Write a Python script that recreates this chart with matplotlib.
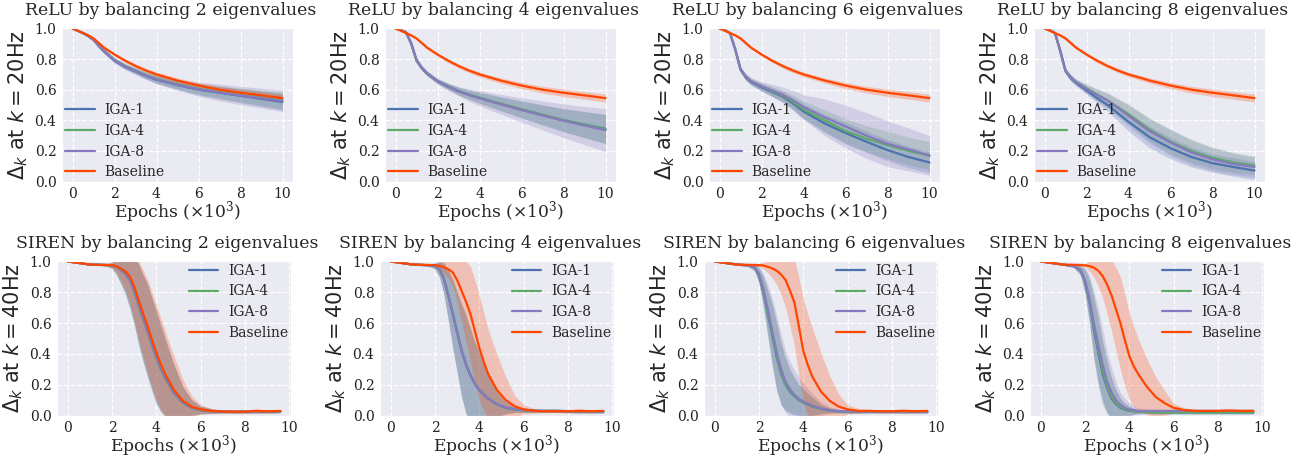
import matplotlib
matplotlib.use("Agg")
import matplotlib.pyplot as plt
import seaborn as sns
import numpy as np

# ---------------- data ----------------
relu_x = [0, 0.25, 0.5, 0.75, 1.0, 1.25, 1.5, 2, 2.5, 3, 3.5, 4, 5, 6, 7, 8, 9, 10]
siren_x = [0, 0.5, 1.0, 1.5, 1.8, 2.0, 2.2, 2.4, 2.6, 2.8, 3.0, 3.2, 3.4, 3.6, 3.8,
           4.0, 4.2, 4.4, 4.8, 5.2, 5.6, 6.0, 6.5, 7.0, 7.5, 8.0, 8.5, 9.0, 9.6]

series_names = ["IGA-1", "IGA-4", "IGA-8", "Baseline"]
series_colors = ["#4C72B0", "#5DAA68", "#8878C0", "#FF4500"]

relu_baseline = [1.0, 0.985, 0.97, 0.955, 0.935, 0.905, 0.875, 0.83, 0.79, 0.755, 0.725, 0.70,
                 0.66, 0.627, 0.60, 0.58, 0.563, 0.545]
relu_baseline_std = [0, 0.004, 0.006, 0.008, 0.01, 0.01, 0.01, 0.01, 0.012, 0.013, 0.014, 0.015,
                     0.017, 0.02, 0.022, 0.024, 0.025, 0.026]

# ReLU, balancing 2 eigenvalues
relu2_means = [
    [1.0, 0.985, 0.97, 0.95, 0.925, 0.885, 0.85, 0.79, 0.75, 0.72, 0.69, 0.665, 0.63, 0.60, 0.58, 0.56, 0.54, 0.52],
    [1.0, 0.985, 0.97, 0.952, 0.928, 0.89, 0.855, 0.795, 0.755, 0.725, 0.695, 0.67, 0.635, 0.605, 0.585, 0.565, 0.548, 0.53],
    [1.0, 0.985, 0.97, 0.95, 0.926, 0.887, 0.852, 0.792, 0.752, 0.722, 0.692, 0.668, 0.632, 0.603, 0.582, 0.562, 0.545, 0.527],
]
relu2_stds = [
    [0, 0.003, 0.005, 0.008, 0.01, 0.012, 0.014, 0.016, 0.018, 0.02, 0.022, 0.025, 0.03, 0.035, 0.04, 0.045, 0.05, 0.055],
    [0, 0.003, 0.005, 0.008, 0.01, 0.012, 0.014, 0.016, 0.018, 0.02, 0.022, 0.025, 0.03, 0.035, 0.04, 0.045, 0.05, 0.055],
    [0, 0.003, 0.005, 0.008, 0.01, 0.012, 0.014, 0.016, 0.018, 0.02, 0.024, 0.028, 0.035, 0.045, 0.055, 0.06, 0.065, 0.07],
]

# ReLU, balancing 4 eigenvalues
relu4_means = [
    [1.0, 0.99, 0.975, 0.90, 0.79, 0.74, 0.705, 0.655, 0.62, 0.59, 0.566, 0.546, 0.507, 0.47, 0.435, 0.40, 0.372, 0.345],
    [1.0, 0.99, 0.975, 0.90, 0.79, 0.742, 0.707, 0.657, 0.622, 0.592, 0.568, 0.548, 0.51, 0.473, 0.437, 0.402, 0.372, 0.342],
    [1.0, 0.99, 0.975, 0.905, 0.795, 0.745, 0.708, 0.656, 0.62, 0.59, 0.565, 0.544, 0.505, 0.467, 0.432, 0.397, 0.366, 0.335],
]
relu4_stds = [
    [0, 0.003, 0.005, 0.01, 0.015, 0.015, 0.015, 0.015, 0.02, 0.025, 0.03, 0.035, 0.045, 0.055, 0.065, 0.075, 0.085, 0.095],
    [0, 0.003, 0.005, 0.01, 0.015, 0.015, 0.015, 0.015, 0.02, 0.025, 0.03, 0.035, 0.045, 0.055, 0.065, 0.075, 0.085, 0.095],
    [0, 0.003, 0.005, 0.01, 0.015, 0.015, 0.015, 0.02, 0.025, 0.03, 0.04, 0.05, 0.065, 0.08, 0.095, 0.11, 0.125, 0.14],
]

# ReLU, balancing 6 eigenvalues
relu6_means = [
    [1.0, 0.99, 0.97, 0.86, 0.73, 0.68, 0.65, 0.615, 0.585, 0.555, 0.51, 0.458, 0.38, 0.317, 0.26, 0.205, 0.16, 0.125],
    [1.0, 0.99, 0.97, 0.865, 0.735, 0.685, 0.655, 0.62, 0.59, 0.56, 0.52, 0.47, 0.40, 0.33, 0.28, 0.238, 0.2, 0.17],
    [1.0, 0.99, 0.97, 0.865, 0.735, 0.685, 0.655, 0.622, 0.595, 0.567, 0.53, 0.487, 0.42, 0.36, 0.30, 0.247, 0.21, 0.17],
]
relu6_stds = [
    [0, 0.003, 0.005, 0.01, 0.015, 0.02, 0.02, 0.025, 0.03, 0.035, 0.04, 0.05, 0.06, 0.07, 0.07, 0.07, 0.07, 0.07],
    [0, 0.003, 0.005, 0.01, 0.015, 0.02, 0.02, 0.025, 0.03, 0.035, 0.045, 0.055, 0.07, 0.08, 0.085, 0.09, 0.09, 0.09],
    [0, 0.003, 0.005, 0.01, 0.015, 0.02, 0.025, 0.03, 0.04, 0.05, 0.065, 0.08, 0.12, 0.14, 0.15, 0.15, 0.14, 0.13],
]

# ReLU, balancing 8 eigenvalues
relu8_means = [
    [1.0, 0.99, 0.97, 0.85, 0.72, 0.675, 0.645, 0.595, 0.545, 0.50, 0.445, 0.39, 0.29, 0.218, 0.16, 0.12, 0.095, 0.072],
    [1.0, 0.99, 0.97, 0.855, 0.725, 0.68, 0.65, 0.61, 0.57, 0.53, 0.485, 0.44, 0.34, 0.26, 0.20, 0.155, 0.125, 0.105],
    [1.0, 0.99, 0.97, 0.855, 0.725, 0.68, 0.65, 0.605, 0.565, 0.53, 0.48, 0.43, 0.33, 0.255, 0.19, 0.145, 0.115, 0.095],
]
relu8_stds = [
    [0, 0.003, 0.005, 0.01, 0.015, 0.02, 0.02, 0.025, 0.03, 0.04, 0.05, 0.06, 0.07, 0.07, 0.065, 0.06, 0.06, 0.06],
    [0, 0.003, 0.005, 0.01, 0.015, 0.02, 0.02, 0.025, 0.035, 0.045, 0.055, 0.065, 0.075, 0.08, 0.075, 0.07, 0.065, 0.06],
    [0, 0.003, 0.005, 0.01, 0.015, 0.02, 0.02, 0.03, 0.04, 0.05, 0.06, 0.07, 0.08, 0.085, 0.08, 0.075, 0.07, 0.065],
]

# SIREN, balancing 2 eigenvalues
siren2_means = [
    [1.0, 0.99, 0.98, 0.978, 0.977, 0.975, 0.965, 0.945, 0.92, 0.88, 0.81, 0.72, 0.63, 0.55, 0.46, 0.375, 0.305, 0.245, 0.145, 0.085, 0.05, 0.035, 0.028, 0.025, 0.024, 0.024, 0.026, 0.025, 0.027],
    [1.0, 0.99, 0.98, 0.978, 0.977, 0.975, 0.966, 0.946, 0.922, 0.884, 0.815, 0.726, 0.636, 0.556, 0.466, 0.38, 0.31, 0.25, 0.15, 0.088, 0.052, 0.036, 0.028, 0.025, 0.024, 0.024, 0.026, 0.025, 0.027],
    [1.0, 0.99, 0.98, 0.978, 0.977, 0.975, 0.966, 0.947, 0.923, 0.886, 0.818, 0.73, 0.64, 0.56, 0.47, 0.385, 0.315, 0.255, 0.152, 0.09, 0.053, 0.037, 0.029, 0.026, 0.025, 0.025, 0.027, 0.026, 0.028],
    [1.0, 0.99, 0.98, 0.978, 0.977, 0.976, 0.97, 0.955, 0.935, 0.905, 0.84, 0.75, 0.665, 0.585, 0.495, 0.41, 0.335, 0.27, 0.165, 0.095, 0.057, 0.04, 0.03, 0.026, 0.025, 0.025, 0.03, 0.027, 0.03],
]
siren2_stds = [
    [0, 0.003, 0.005, 0.005, 0.01, 0.02, 0.05, 0.09, 0.13, 0.18, 0.22, 0.26, 0.28, 0.3, 0.3, 0.3, 0.28, 0.25, 0.18, 0.1, 0.05, 0.025, 0.015, 0.01, 0.01, 0.01, 0.01, 0.01, 0.01],
    [0, 0.003, 0.005, 0.005, 0.01, 0.02, 0.05, 0.09, 0.13, 0.18, 0.22, 0.26, 0.28, 0.3, 0.3, 0.3, 0.28, 0.25, 0.18, 0.1, 0.05, 0.025, 0.015, 0.01, 0.01, 0.01, 0.01, 0.01, 0.01],
    [0, 0.003, 0.005, 0.005, 0.01, 0.02, 0.05, 0.09, 0.13, 0.18, 0.22, 0.26, 0.28, 0.3, 0.3, 0.3, 0.28, 0.25, 0.18, 0.1, 0.05, 0.025, 0.015, 0.01, 0.01, 0.01, 0.01, 0.01, 0.01],
    [0, 0.003, 0.005, 0.005, 0.01, 0.02, 0.04, 0.08, 0.12, 0.17, 0.22, 0.25, 0.28, 0.3, 0.31, 0.31, 0.3, 0.28, 0.22, 0.14, 0.07, 0.03, 0.015, 0.01, 0.01, 0.01, 0.015, 0.01, 0.01],
]

# SIREN, balancing 4 eigenvalues
siren4_means = [
    [1.0, 0.99, 0.98, 0.977, 0.975, 0.97, 0.95, 0.89, 0.78, 0.66, 0.54, 0.42, 0.33, 0.26, 0.205, 0.165, 0.135, 0.11, 0.072, 0.05, 0.04, 0.035, 0.03, 0.03, 0.03, 0.028, 0.027, 0.025, 0.025],
    [1.0, 0.99, 0.98, 0.977, 0.975, 0.97, 0.952, 0.893, 0.785, 0.667, 0.547, 0.427, 0.336, 0.266, 0.21, 0.17, 0.138, 0.112, 0.074, 0.051, 0.04, 0.035, 0.03, 0.03, 0.03, 0.028, 0.027, 0.025, 0.025],
    [1.0, 0.99, 0.98, 0.977, 0.975, 0.97, 0.95, 0.89, 0.782, 0.663, 0.543, 0.424, 0.334, 0.263, 0.208, 0.168, 0.137, 0.112, 0.074, 0.052, 0.041, 0.036, 0.031, 0.03, 0.03, 0.029, 0.028, 0.027, 0.027],
    [1.0, 0.99, 0.98, 0.978, 0.977, 0.976, 0.972, 0.962, 0.95, 0.93, 0.88, 0.81, 0.74, 0.66, 0.55, 0.44, 0.35, 0.27, 0.165, 0.10, 0.06, 0.04, 0.03, 0.028, 0.028, 0.028, 0.03, 0.028, 0.03],
]
siren4_stds = [
    [0, 0.003, 0.005, 0.005, 0.01, 0.02, 0.05, 0.1, 0.16, 0.22, 0.26, 0.3, 0.32, 0.3, 0.27, 0.24, 0.2, 0.15, 0.08, 0.04, 0.02, 0.015, 0.01, 0.01, 0.01, 0.01, 0.01, 0.01, 0.01],
    [0, 0.003, 0.005, 0.005, 0.01, 0.02, 0.05, 0.1, 0.16, 0.22, 0.26, 0.3, 0.32, 0.3, 0.27, 0.24, 0.2, 0.15, 0.08, 0.04, 0.02, 0.015, 0.01, 0.01, 0.01, 0.01, 0.01, 0.01, 0.01],
    [0, 0.003, 0.005, 0.005, 0.01, 0.02, 0.05, 0.1, 0.16, 0.22, 0.26, 0.3, 0.32, 0.3, 0.27, 0.24, 0.2, 0.15, 0.08, 0.04, 0.02, 0.015, 0.01, 0.01, 0.01, 0.01, 0.01, 0.01, 0.01],
    [0, 0.003, 0.005, 0.005, 0.008, 0.01, 0.02, 0.04, 0.06, 0.09, 0.14, 0.2, 0.26, 0.31, 0.33, 0.34, 0.32, 0.29, 0.23, 0.15, 0.07, 0.03, 0.015, 0.01, 0.01, 0.01, 0.015, 0.01, 0.01],
]

# SIREN, balancing 6 eigenvalues
siren6_means = [
    [1.0, 0.99, 0.98, 0.975, 0.96, 0.91, 0.80, 0.66, 0.52, 0.38, 0.27, 0.2, 0.155, 0.125, 0.1, 0.085, 0.072, 0.06, 0.042, 0.032, 0.027, 0.025, 0.025, 0.025, 0.025, 0.025, 0.025, 0.024, 0.024],
    [1.0, 0.99, 0.98, 0.975, 0.96, 0.912, 0.805, 0.667, 0.528, 0.388, 0.277, 0.205, 0.16, 0.128, 0.103, 0.087, 0.073, 0.061, 0.043, 0.033, 0.028, 0.025, 0.025, 0.025, 0.025, 0.025, 0.025, 0.024, 0.024],
    [1.0, 0.99, 0.98, 0.975, 0.962, 0.92, 0.82, 0.69, 0.55, 0.41, 0.30, 0.22, 0.17, 0.135, 0.11, 0.092, 0.078, 0.065, 0.046, 0.035, 0.03, 0.027, 0.026, 0.026, 0.026, 0.026, 0.026, 0.025, 0.025],
    [1.0, 0.99, 0.98, 0.978, 0.977, 0.976, 0.974, 0.965, 0.955, 0.94, 0.915, 0.88, 0.81, 0.735, 0.58, 0.42, 0.33, 0.255, 0.155, 0.095, 0.058, 0.04, 0.03, 0.03, 0.028, 0.028, 0.03, 0.028, 0.03],
]
siren6_stds = [
    [0, 0.003, 0.005, 0.008, 0.02, 0.05, 0.1, 0.15, 0.2, 0.22, 0.2, 0.17, 0.14, 0.12, 0.1, 0.09, 0.07, 0.06, 0.03, 0.015, 0.01, 0.01, 0.01, 0.01, 0.01, 0.01, 0.01, 0.01, 0.01],
    [0, 0.003, 0.005, 0.008, 0.02, 0.05, 0.1, 0.15, 0.2, 0.22, 0.2, 0.17, 0.14, 0.12, 0.1, 0.09, 0.07, 0.06, 0.03, 0.015, 0.01, 0.01, 0.01, 0.01, 0.01, 0.01, 0.01, 0.01, 0.01],
    [0, 0.003, 0.005, 0.008, 0.02, 0.05, 0.1, 0.16, 0.21, 0.24, 0.23, 0.2, 0.18, 0.16, 0.14, 0.12, 0.1, 0.08, 0.045, 0.02, 0.012, 0.01, 0.01, 0.01, 0.01, 0.01, 0.01, 0.01, 0.01],
    [0, 0.003, 0.005, 0.005, 0.008, 0.01, 0.02, 0.04, 0.06, 0.09, 0.13, 0.18, 0.23, 0.28, 0.32, 0.34, 0.33, 0.32, 0.25, 0.16, 0.08, 0.03, 0.015, 0.01, 0.01, 0.01, 0.015, 0.01, 0.01],
]

# SIREN, balancing 8 eigenvalues
siren8_means = [
    [1.0, 0.99, 0.98, 0.97, 0.94, 0.87, 0.74, 0.56, 0.41, 0.27, 0.18, 0.11, 0.075, 0.05, 0.038, 0.03, 0.027, 0.025, 0.022, 0.02, 0.02, 0.02, 0.02, 0.02, 0.02, 0.02, 0.02, 0.02, 0.02],
    [1.0, 0.99, 0.98, 0.97, 0.942, 0.875, 0.75, 0.58, 0.43, 0.29, 0.19, 0.12, 0.08, 0.055, 0.04, 0.032, 0.028, 0.025, 0.022, 0.02, 0.02, 0.02, 0.02, 0.02, 0.02, 0.02, 0.02, 0.02, 0.02],
    [1.0, 0.99, 0.98, 0.97, 0.945, 0.88, 0.76, 0.60, 0.46, 0.33, 0.22, 0.15, 0.10, 0.07, 0.05, 0.04, 0.035, 0.03, 0.03, 0.03, 0.03, 0.03, 0.03, 0.03, 0.03, 0.03, 0.03, 0.03, 0.03],
    [1.0, 0.99, 0.98, 0.978, 0.977, 0.975, 0.97, 0.96, 0.94, 0.905, 0.85, 0.78, 0.69, 0.60, 0.49, 0.387, 0.32, 0.27, 0.186, 0.12, 0.08, 0.05, 0.035, 0.03, 0.03, 0.03, 0.032, 0.03, 0.03],
]
siren8_stds = [
    [0, 0.003, 0.005, 0.01, 0.03, 0.08, 0.14, 0.2, 0.22, 0.2, 0.17, 0.13, 0.09, 0.06, 0.04, 0.03, 0.02, 0.015, 0.01, 0.01, 0.01, 0.01, 0.01, 0.01, 0.01, 0.01, 0.01, 0.01, 0.01],
    [0, 0.003, 0.005, 0.01, 0.03, 0.08, 0.14, 0.2, 0.22, 0.2, 0.17, 0.13, 0.09, 0.06, 0.04, 0.03, 0.02, 0.015, 0.01, 0.01, 0.01, 0.01, 0.01, 0.01, 0.01, 0.01, 0.01, 0.01, 0.01],
    [0, 0.003, 0.005, 0.01, 0.03, 0.08, 0.15, 0.21, 0.24, 0.23, 0.2, 0.16, 0.12, 0.08, 0.06, 0.045, 0.03, 0.02, 0.012, 0.01, 0.01, 0.01, 0.01, 0.01, 0.01, 0.01, 0.01, 0.01, 0.01],
    [0, 0.003, 0.005, 0.005, 0.008, 0.01, 0.03, 0.06, 0.1, 0.14, 0.19, 0.23, 0.27, 0.3, 0.3, 0.28, 0.26, 0.23, 0.18, 0.13, 0.08, 0.03, 0.015, 0.01, 0.01, 0.01, 0.015, 0.01, 0.01],
]

eig_counts = [2, 4, 6, 8]
relu_means_all = [relu2_means + [relu_baseline], relu4_means + [relu_baseline],
                  relu6_means + [relu_baseline], relu8_means + [relu_baseline]]
relu_stds_all = [relu2_stds + [relu_baseline_std], relu4_stds + [relu_baseline_std],
                 relu6_stds + [relu_baseline_std], relu8_stds + [relu_baseline_std]]
siren_means_all = [siren2_means, siren4_means, siren6_means, siren8_means]
siren_stds_all = [siren2_stds, siren4_stds, siren6_stds, siren8_stds]

# ---------------- style ----------------
sns.set_style("darkgrid", {"grid.linestyle": "--", "axes.facecolor": "#EAEAF2"})
plt.rcParams["font.family"] = ["DejaVu Serif"]
plt.rcParams["mathtext.fontset"] = "dejavusans"

W, H = 1310, 459
fig = plt.figure(figsize=(W / 100, H / 100), dpi=100)

top_lefts = [62, 385, 709, 1034]
bot_lefts = [57, 380, 704, 1030]


def make_ax(left_px, top_px, w_px, h_px):
    return fig.add_axes([left_px / W, 1 - (top_px + h_px) / H, w_px / W, h_px / H])


def draw(ax, x, means, stds, title, ylabel, legend_loc):
    x = np.asarray(x)
    for m, s, c in zip(means, stds, series_colors):
        m = np.asarray(m)
        s = np.asarray(s)
        ax.fill_between(x, m - s, m + s, color=c, alpha=0.25, lw=0)
    for m, c, name in zip(means, series_colors, series_names):
        ax.plot(x, m, color=c, lw=1.6, label=name)
    ax.set_ylim(-0.003, 1.003)
    ax.set_xticks([0, 2, 4, 6, 8, 10])
    ax.set_yticks([0.0, 0.2, 0.4, 0.6, 0.8, 1.0])
    ax.set_yticklabels(["0.0", "0.2", "0.4", "0.6", "0.8", "1.0"])
    ax.tick_params(labelsize=10, pad=1.5, length=2.5, width=0.8, color="#333333",
                   labelcolor="#222222")
    ax.tick_params(axis="x", pad=1.0)
    ax.grid(True, color="white", linestyle="--", linewidth=0.9)
    ax.set_title(title, fontsize=12.4, x=0.47, pad=9)
    ax.set_xlabel(r"Epochs ($\times10^3$)", fontsize=12.3, labelpad=-1.5,
                  math_fontfamily="dejavuserif")
    ax.set_ylabel(ylabel, fontsize=15, family="DejaVu Sans", labelpad=3)
    ax.legend(loc=legend_loc, frameon=False, fontsize=10, handlelength=2.15,
              handletextpad=0.7, labelspacing=0.48, borderpad=0.1, borderaxespad=0.1)


for i, n in enumerate(eig_counts):
    ax = make_ax(top_lefts[i], 28, 231, 154)
    draw(ax, relu_x, relu_means_all[i], relu_stds_all[i],
         f"ReLU by balancing {n} eigenvalues", r"$\Delta_k$ at $k = 20$Hz", "lower left")
    ax.set_xlim(-0.5, 10.5)

for i, n in enumerate(eig_counts):
    ax = make_ax(bot_lefts[i], 261, 234, 155)
    draw(ax, siren_x, siren_means_all[i], siren_stds_all[i],
         f"SIREN by balancing {n} eigenvalues", r"$\Delta_k$ at $k = 40$Hz", "upper right")
    ax.set_xlim(-0.48, 10.08)

fig.savefig("out.png", dpi=100)
